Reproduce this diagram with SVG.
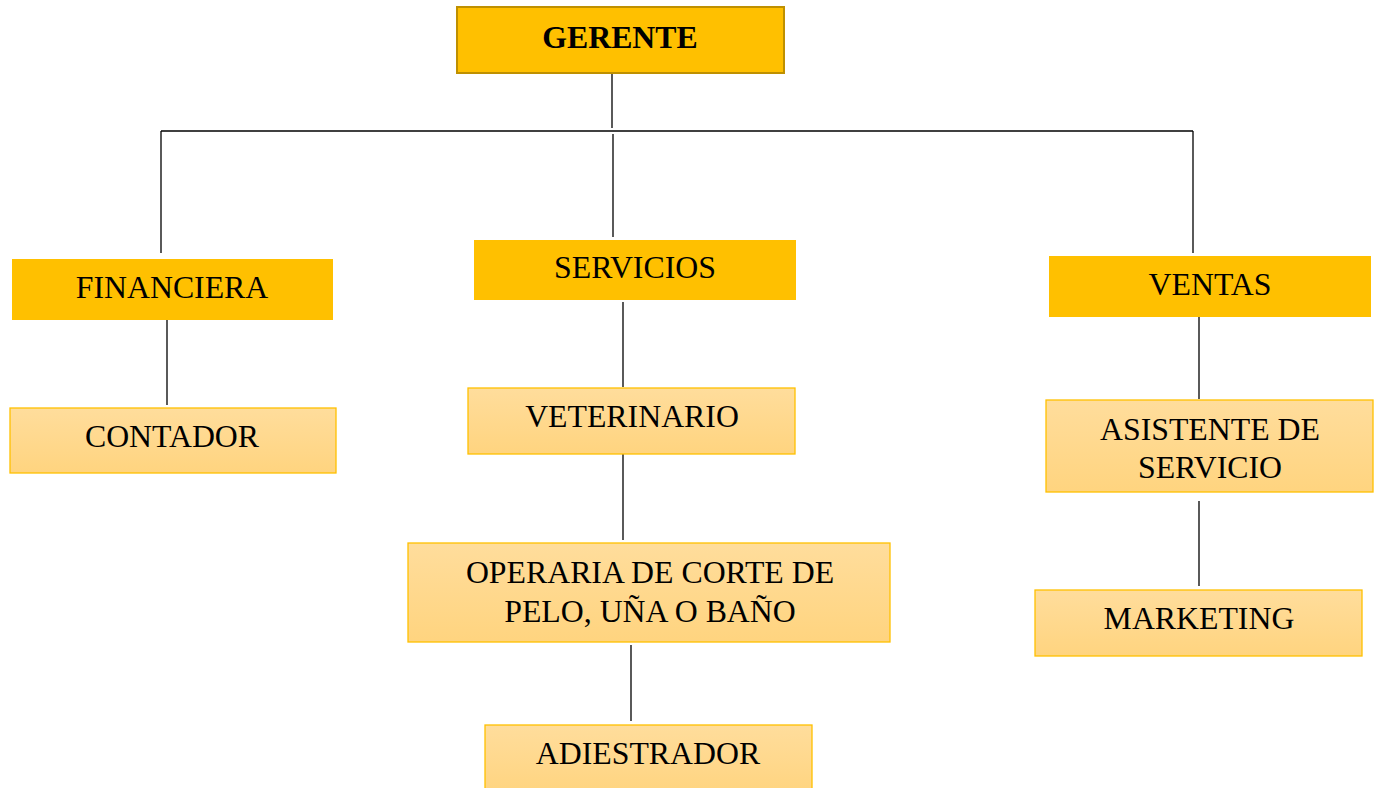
<svg xmlns="http://www.w3.org/2000/svg" width="1377" height="788" viewBox="0 0 1377 788">
<defs>
<linearGradient id="lg" x1="0" y1="0" x2="0" y2="1">
<stop offset="0" stop-color="#FFDD9C"/>
<stop offset="1" stop-color="#FFD47F"/>
</linearGradient>
</defs>
<style>
.top{fill:#FFC000;stroke:#BF9000;stroke-width:2}
.mid{fill:#FFC000;stroke:none}
.low{fill:url(#lg);stroke:#FFC000;stroke-width:1.3}
text{font-family:"Liberation Serif","Times New Roman",serif;font-size:31.8px;fill:#000;text-anchor:middle}
.b{font-weight:bold}
.c line{stroke:#000;stroke-width:1.3}
</style>
<rect width="1377" height="788" fill="#fff"/>
<g class="c" id="connectors">
<line x1="612" y1="73" x2="612" y2="128"/>
<line x1="161" y1="131" x2="1193" y2="131"/>
<line x1="161" y1="131" x2="161" y2="253"/>
<line x1="613" y1="134" x2="613" y2="237"/>
<line x1="1193" y1="131" x2="1193" y2="253"/>
<line x1="167" y1="320" x2="167" y2="405"/>
<line x1="623" y1="302" x2="623" y2="387"/>
<line x1="623" y1="454" x2="623" y2="540"/>
<line x1="631" y1="645" x2="631" y2="721"/>
<line x1="1199" y1="314" x2="1199" y2="399"/>
<line x1="1199" y1="501" x2="1199" y2="586"/>
</g>
<g id="gerente"><rect class="top" x="457" y="7" width="327" height="66"/><text class="b" x="620" y="48">GERENTE</text></g>
<g id="financiera"><rect class="mid" x="12" y="259" width="321" height="61"/><text x="172" y="298">FINANCIERA</text></g>
<g id="contador"><rect class="low" x="10" y="408" width="326" height="65"/><text x="172" y="447">CONTADOR</text></g>
<g id="servicios"><rect class="mid" x="474" y="240" width="322" height="60"/><text x="635" y="278">SERVICIOS</text></g>
<g id="veterinario"><rect class="low" x="468" y="388" width="327" height="66"/><text x="632" y="427">VETERINARIO</text></g>
<g id="operaria"><rect class="low" x="408" y="543" width="482" height="99"/><text x="650" y="583">OPERARIA DE CORTE DE</text><text x="650" y="622">PELO, UÑA O BAÑO</text></g>
<g id="adiestrador"><rect class="low" x="485" y="725" width="327" height="70"/><text x="648" y="764">ADIESTRADOR</text></g>
<g id="ventas"><rect class="mid" x="1049" y="256" width="322" height="61"/><text x="1210" y="295">VENTAS</text></g>
<g id="asistente"><rect class="low" x="1046" y="400" width="327" height="92"/><text x="1210" y="440">ASISTENTE DE</text><text x="1210" y="478">SERVICIO</text></g>
<g id="marketing"><rect class="low" x="1035" y="590" width="327" height="66"/><text x="1199" y="629">MARKETING</text></g>
</svg>
